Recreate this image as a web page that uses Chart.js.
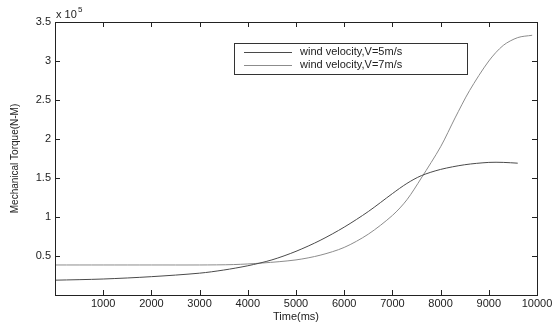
<!DOCTYPE html>
<html>
<head>
<meta charset="utf-8">
<script src="https://cdn.jsdelivr.net/npm/chart.js@4/dist/chart.umd.min.js"></script>
<style>
  html, body { margin: 0; padding: 0; background: #fff; }
  #wrap { width: 557px; height: 324px; }
</style>
</head>
<body>
<div id="wrap"><canvas id="torque"></canvas></div>
<script>
// data (torque in units of 10^5 N-M)
const seriesNames = ['wind velocity,V=5m/s', 'wind velocity,V=7m/s'];
const timeV5 = [0, 1000, 2000, 3000, 3500, 4000, 4500, 5000, 5500, 6000, 6500, 7000, 7300, 7600, 8000, 8500, 9000, 9300, 9600];
const torqueV5 = [0.19, 0.205, 0.235, 0.28, 0.32, 0.375, 0.45, 0.56, 0.7, 0.87, 1.07, 1.3, 1.43, 1.53, 1.61, 1.67, 1.7, 1.7, 1.69];
const timeV7 = [0, 1000, 2000, 3000, 3700, 4300, 5000, 5500, 6000, 6500, 7000, 7300, 7600, 8000, 8300, 8600, 9000, 9300, 9600, 9900];
const torqueV7 = [0.385, 0.385, 0.385, 0.385, 0.39, 0.41, 0.45, 0.51, 0.61, 0.78, 1.02, 1.22, 1.5, 1.9, 2.27, 2.62, 3.0, 3.2, 3.3, 3.33];
const xTicks = [1000, 2000, 3000, 4000, 5000, 6000, 7000, 8000, 9000, 10000];
const yTicks = [0.5, 1, 1.5, 2, 2.5, 3, 3.5];

const lineColors = ['#4a4a4a', '#8c8c8c'];
const font = { family: 'Liberation Sans, Arial, sans-serif', size: 11 };

const toPoints = (xs, ys) => xs.map((x, i) => ({ x, y: ys[i] }));

// matlab style frame, inward ticks, exponent label and boxed legend
const matlabFrame = {
  id: 'matlabFrame',
  afterDraw(chart) {
    const { ctx, chartArea: a, scales } = chart;
    ctx.save();
    ctx.strokeStyle = '#222';
    ctx.lineWidth = 1;
    ctx.strokeRect(a.left + 0.5, a.top + 0.5, a.right - a.left, a.bottom - a.top);
    ctx.beginPath();
    xTicks.forEach((t) => {
      const px = Math.round(scales.x.getPixelForValue(t)) + 0.5;
      ctx.moveTo(px, a.bottom); ctx.lineTo(px, a.bottom - 5);
      ctx.moveTo(px, a.top); ctx.lineTo(px, a.top + 5);
    });
    yTicks.forEach((t) => {
      const py = Math.round(scales.y.getPixelForValue(t)) + 0.5;
      ctx.moveTo(a.left, py); ctx.lineTo(a.left + 5, py);
      ctx.moveTo(a.right, py); ctx.lineTo(a.right - 5, py);
    });
    ctx.stroke();

    // x 10^5
    ctx.fillStyle = '#222';
    ctx.font = '11px ' + font.family;
    ctx.textBaseline = 'alphabetic';
    ctx.fillText('x 10', a.left + 1, a.top - 4);
    ctx.font = '8px ' + font.family;
    ctx.fillText('5', a.left + 23, a.top - 10);

    // legend
    const lx = 234, ly = 43, lw = 233, lh = 31;
    ctx.fillStyle = '#fff';
    ctx.fillRect(lx, ly, lw, lh);
    ctx.strokeStyle = '#333';
    ctx.strokeRect(lx + 0.5, ly + 0.5, lw, lh);
    ctx.font = '11px ' + font.family;
    ctx.textBaseline = 'middle';
    seriesNames.forEach((name, i) => {
      const y = ly + 9 + i * 13;
      ctx.strokeStyle = lineColors[i];
      ctx.beginPath();
      ctx.moveTo(lx + 10, y + 0.5); ctx.lineTo(lx + 58, y + 0.5);
      ctx.stroke();
      ctx.fillStyle = '#222';
      ctx.fillText(name, lx + 66, y);
    });
    ctx.restore();
  }
};

new Chart(document.getElementById('torque'), {
  type: 'scatter',
  data: {
    datasets: [
      { label: seriesNames[0], data: toPoints(timeV5, torqueV5) },
      { label: seriesNames[1], data: toPoints(timeV7, torqueV7) },
    ].map((d, i) => ({
      ...d,
      showLine: true,
      borderColor: lineColors[i],
      borderWidth: 1,
      pointRadius: 0,
      tension: 0.3,
    })),
  },
  options: {
    responsive: true,
    maintainAspectRatio: false,
    animation: false,
    layout: { padding: { top: 22, right: 20, left: 0, bottom: 0 } },
    plugins: { legend: { display: false }, tooltip: { enabled: false } },
    scales: {
      x: {
        type: 'linear', min: 0, max: 10000,
        afterFit: (s) => { s.height = 29; },
        afterBuildTicks: (s) => { s.ticks = xTicks.map((v) => ({ value: v })); },
        grid: { display: false, drawTicks: false },
        border: { display: false },
        ticks: { color: '#222', font, padding: 2, maxRotation: 0, autoSkip: false, callback: (v) => String(v) },
        title: { display: true, text: 'Time(ms)', color: '#222', font, padding: { top: -2, bottom: 0 } },
      },
      y: {
        type: 'linear', min: 0, max: 3.5,
        afterFit: (s) => { s.width = 55; },
        afterBuildTicks: (s) => { s.ticks = yTicks.map((v) => ({ value: v })); },
        grid: { display: false, drawTicks: false },
        border: { display: false },
        ticks: { color: '#222', font, padding: 4, autoSkip: false, callback: (v) => String(v) },
        title: { display: true, text: 'Mechanical Torque(N-M)', color: '#222', font: { ...font, size: 10 }, padding: { top: 9, bottom: 0 } },
      },
    },
  },
  plugins: [matlabFrame],
});
</script>
</body>
</html>
